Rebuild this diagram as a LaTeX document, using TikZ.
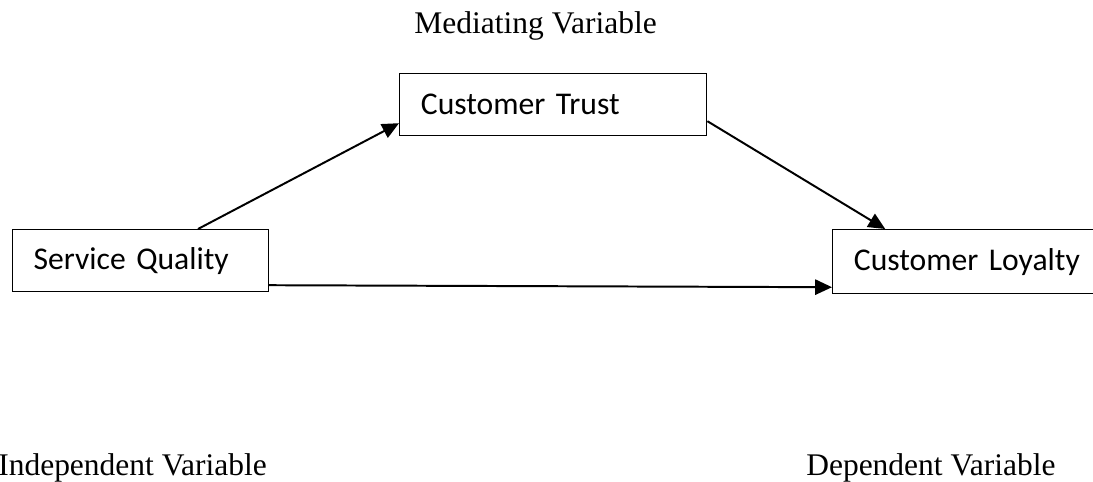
\documentclass[tikz,border=0pt]{standalone}
\usepackage{fontspec}
\setmainfont{Liberation Serif}
\newfontfamily\boxfont{Carlito}
\usetikzlibrary{arrows.meta}

\tikzset{
    varbox/.style={draw, line width=1pt, rectangle, anchor=north west,
        inner xsep=0.53cm, inner ysep=0pt, align=left,
        font=\boxfont\fontsize{22.5}{27}\selectfont},
    lbl/.style={font=\fontsize{22.4}{27}\selectfont, inner sep=0pt},
    link/.style={line width=1.4pt, -{Triangle[length=0.42cm,width=0.38cm]}}
}

\begin{document}
\begin{tikzpicture}
    \useasboundingbox (0,0) rectangle (27.325,12.025);

    % Boxes
    \node[varbox, text width=5.34cm, minimum height=1.55cm] (sq) at (0.29,6.3) {Service Quality};
    \node[varbox, text width=6.615cm, minimum height=1.55cm] (ct) at (9.975,10.21) {Customer Trust};
    \node[varbox, text width=6.2cm, minimum height=1.6cm] (cl) at (20.8,6.3) {Customer Loyalty};

    % Paths
    \draw[link] ([xshift=4.66cm]sq.north west) -- ([yshift=0.32cm]ct.south west);
    \draw[link] ([yshift=0.37cm]ct.south east) -- ([xshift=1.33cm]cl.north west);
    \draw[link] ([yshift=0.18cm]sq.south east) -- ([yshift=0.18cm]cl.south west);

    % Labels
    \node[lbl, anchor=base] (med) at (13.39,11.2) {Mediating Variable};
    \node[lbl, anchor=base east] (ind) at (6.675,0.15) {Independent Variable};
    \node[lbl, anchor=base west] (dep) at (20.15,0.15) {Dependent Variable};
\end{tikzpicture}
\end{document}
